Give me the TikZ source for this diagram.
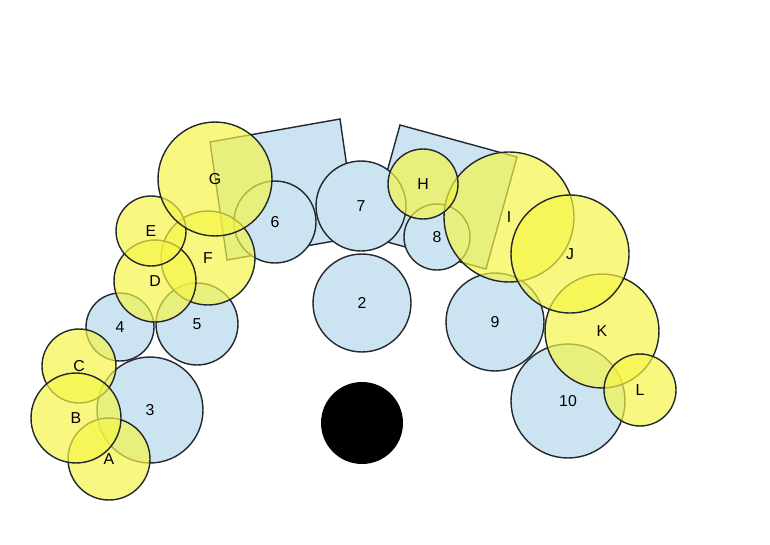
\documentclass[tikz,border=0pt]{standalone}
\usepackage{fontspec}
\setmainfont{Liberation Sans}
\definecolor{lblue}{RGB}{204,227,242}
\definecolor{yel}{RGB}{245,245,70}
\definecolor{edge}{RGB}{35,40,45}

\begin{document}
\begin{tikzpicture}[
      x=0.02cm, y=-0.02cm,
      bc/.style={circle, draw=edge, line width=0.8pt, fill=lblue, inner sep=0pt, outer sep=0pt, font=\fontsize{9}{11}\selectfont},
      yc/.style={circle, draw=edge, line width=0.8pt, fill=yel, fill opacity=0.68, text opacity=1, inner sep=0pt, outer sep=0pt, font=\fontsize{9}{11}\selectfont},
      rb/.style={draw=edge, line width=0.8pt, fill=lblue},
    ]
      \useasboundingbox (0,0) rectangle (770,544);
      % tilted boxes behind
      \draw[rb] (210,142) -- (340,119) -- (357,237) -- (227,260) -- cycle;
      \draw[rb] (400,125) -- (517,157) -- (486,269) -- (369,237) -- cycle;
      % blue circles
      \node[bc, minimum size=1.96cm] (n2)  at (362,303) {2};
      \node[bc, minimum size=1.80cm] (n7)  at (361,206) {7};
      \node[bc, minimum size=1.64cm] (n6)  at (275,222) {6};
      \node[bc, minimum size=1.32cm] (n8)  at (437,237) {8};
      \node[bc, minimum size=1.96cm] (n9)  at (495,322) {9};
      \node[bc, minimum size=2.28cm] (n10) at (568,401) {10};
      \node[bc, minimum size=2.12cm] (n3)  at (150,410) {3};
      \node[bc, minimum size=1.36cm] (n4)  at (120,327) {4};
      \node[bc, minimum size=1.64cm] (n5)  at (197,324) {5};
      \node[circle, fill=black, inner sep=0pt, minimum size=1.64cm] (dot) at (362,423) {};
      % yellow circles, left arm
      \node[yc, minimum size=1.48cm] (nC) at (79,366)  {C};
      \node[yc, minimum size=1.64cm] (nA) at (109,459) {A};
      \node[yc, minimum size=1.80cm] (nB) at (76,418)  {B};
      \node[yc, minimum size=1.88cm] (nF) at (208,258) {F};
      \node[yc, minimum size=1.64cm] (nD) at (155,281) {D};
      \node[yc, minimum size=1.40cm] (nE) at (151,231) {E};
      \node[yc, minimum size=2.28cm] (nG) at (215,179) {G};
      % yellow circles, right arm
      \node[yc, minimum size=2.60cm] (nI) at (509,217) {I};
      \node[yc, minimum size=1.40cm] (nH) at (423,184) {H};
      \node[yc, minimum size=2.28cm] (nK) at (602,331) {K};
      \node[yc, minimum size=2.36cm] (nJ) at (570,254) {J};
      \node[yc, minimum size=1.44cm] (nL) at (640,390) {L};
    \end{tikzpicture}
\end{document}
